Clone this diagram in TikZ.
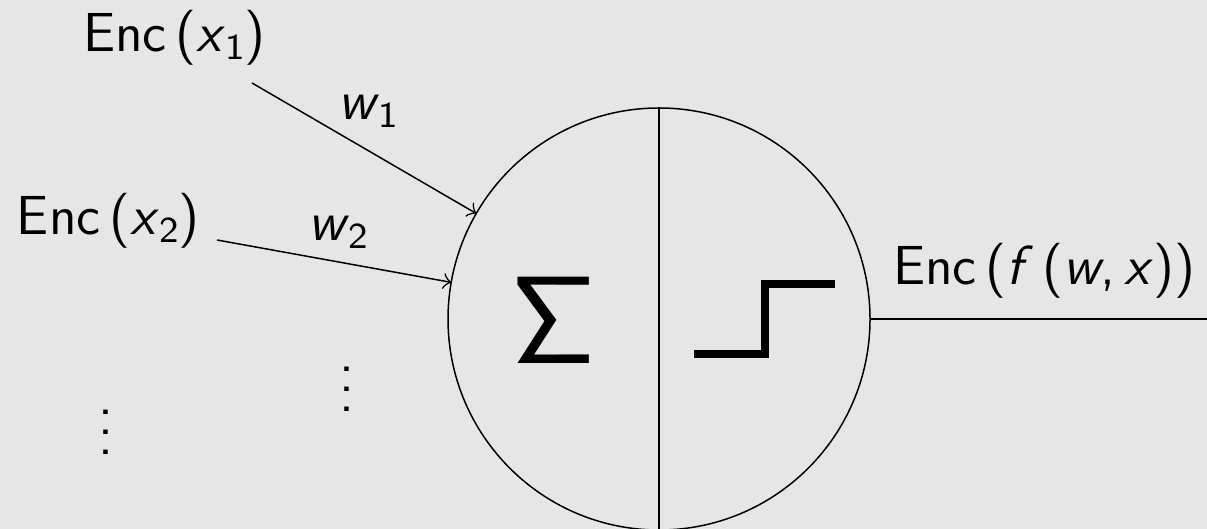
\documentclass[tikz,border=0pt,11pt]{standalone}
\usepackage{fontspec}
\definecolor{bg}{RGB}{230,230,230}
\newcommand\myvd{\vbox{\baselineskip4pt\lineskiplimit0pt\hbox{.}\hbox{.}\hbox{.}}}
\newcommand\mysub[1]{\raisebox{-1.6pt}{\fontsize{7.3}{8}\selectfont #1}}
\newcommand\encx[1]{Enc\,(\textit{x}\mysub{#1})}
\begin{document}
\begin{tikzpicture}[x=0.2pt,y=-0.2pt,
  font=\sffamily\fontsize{11}{13}\selectfont,
  line width=0.3pt,
  lbl/.style={anchor=base west, inner sep=0pt, outer sep=0pt},
  neuron/.style={draw, circle, minimum size=84.4pt, inner sep=0pt, outer sep=0pt},
  dots/.style={inner sep=0pt},
  stepfn/.style={line width=1.6pt}]
\fill[bg] (0,0) rectangle (1207,529);
\useasboundingbox (0,0) rectangle (1207,529);

\node[neuron] (n) at (659,319) {};
\draw (n.north) -- (n.south);
\node[inner sep=0pt, font=\sffamily\Huge] (sig) at (553.5,320) {Σ};
\draw[stepfn] (694,354) -- (765,354) -- (765,284) -- (835,284);

\node[lbl] (e1) at (83,52) {\encx{1}};
\node[lbl] (e2) at (17,235) {\encx{2}};
\node[lbl] (w1) at (338,120) {\textit{w}\mysub{1}};
\node[lbl] (w2) at (308,241) {\textit{w}\mysub{2}};
\node[lbl] (out) at (893,285) {Enc\,(\textit{f}\,(\textit{w},\,\textit{x}))};

\coordinate (s1) at (252,83);
\coordinate (s2) at (217,240);
\coordinate (oe) at (1207,319);
\draw[->] (s1) -- (n.150);
\draw[->] (s2) -- (n.170);
\draw (n.east) -- (oe);

\node[dots] (d1) at (106,432) {\myvd};
\node[dots] (d2) at (347,389) {\myvd};
\end{tikzpicture}
\end{document}
